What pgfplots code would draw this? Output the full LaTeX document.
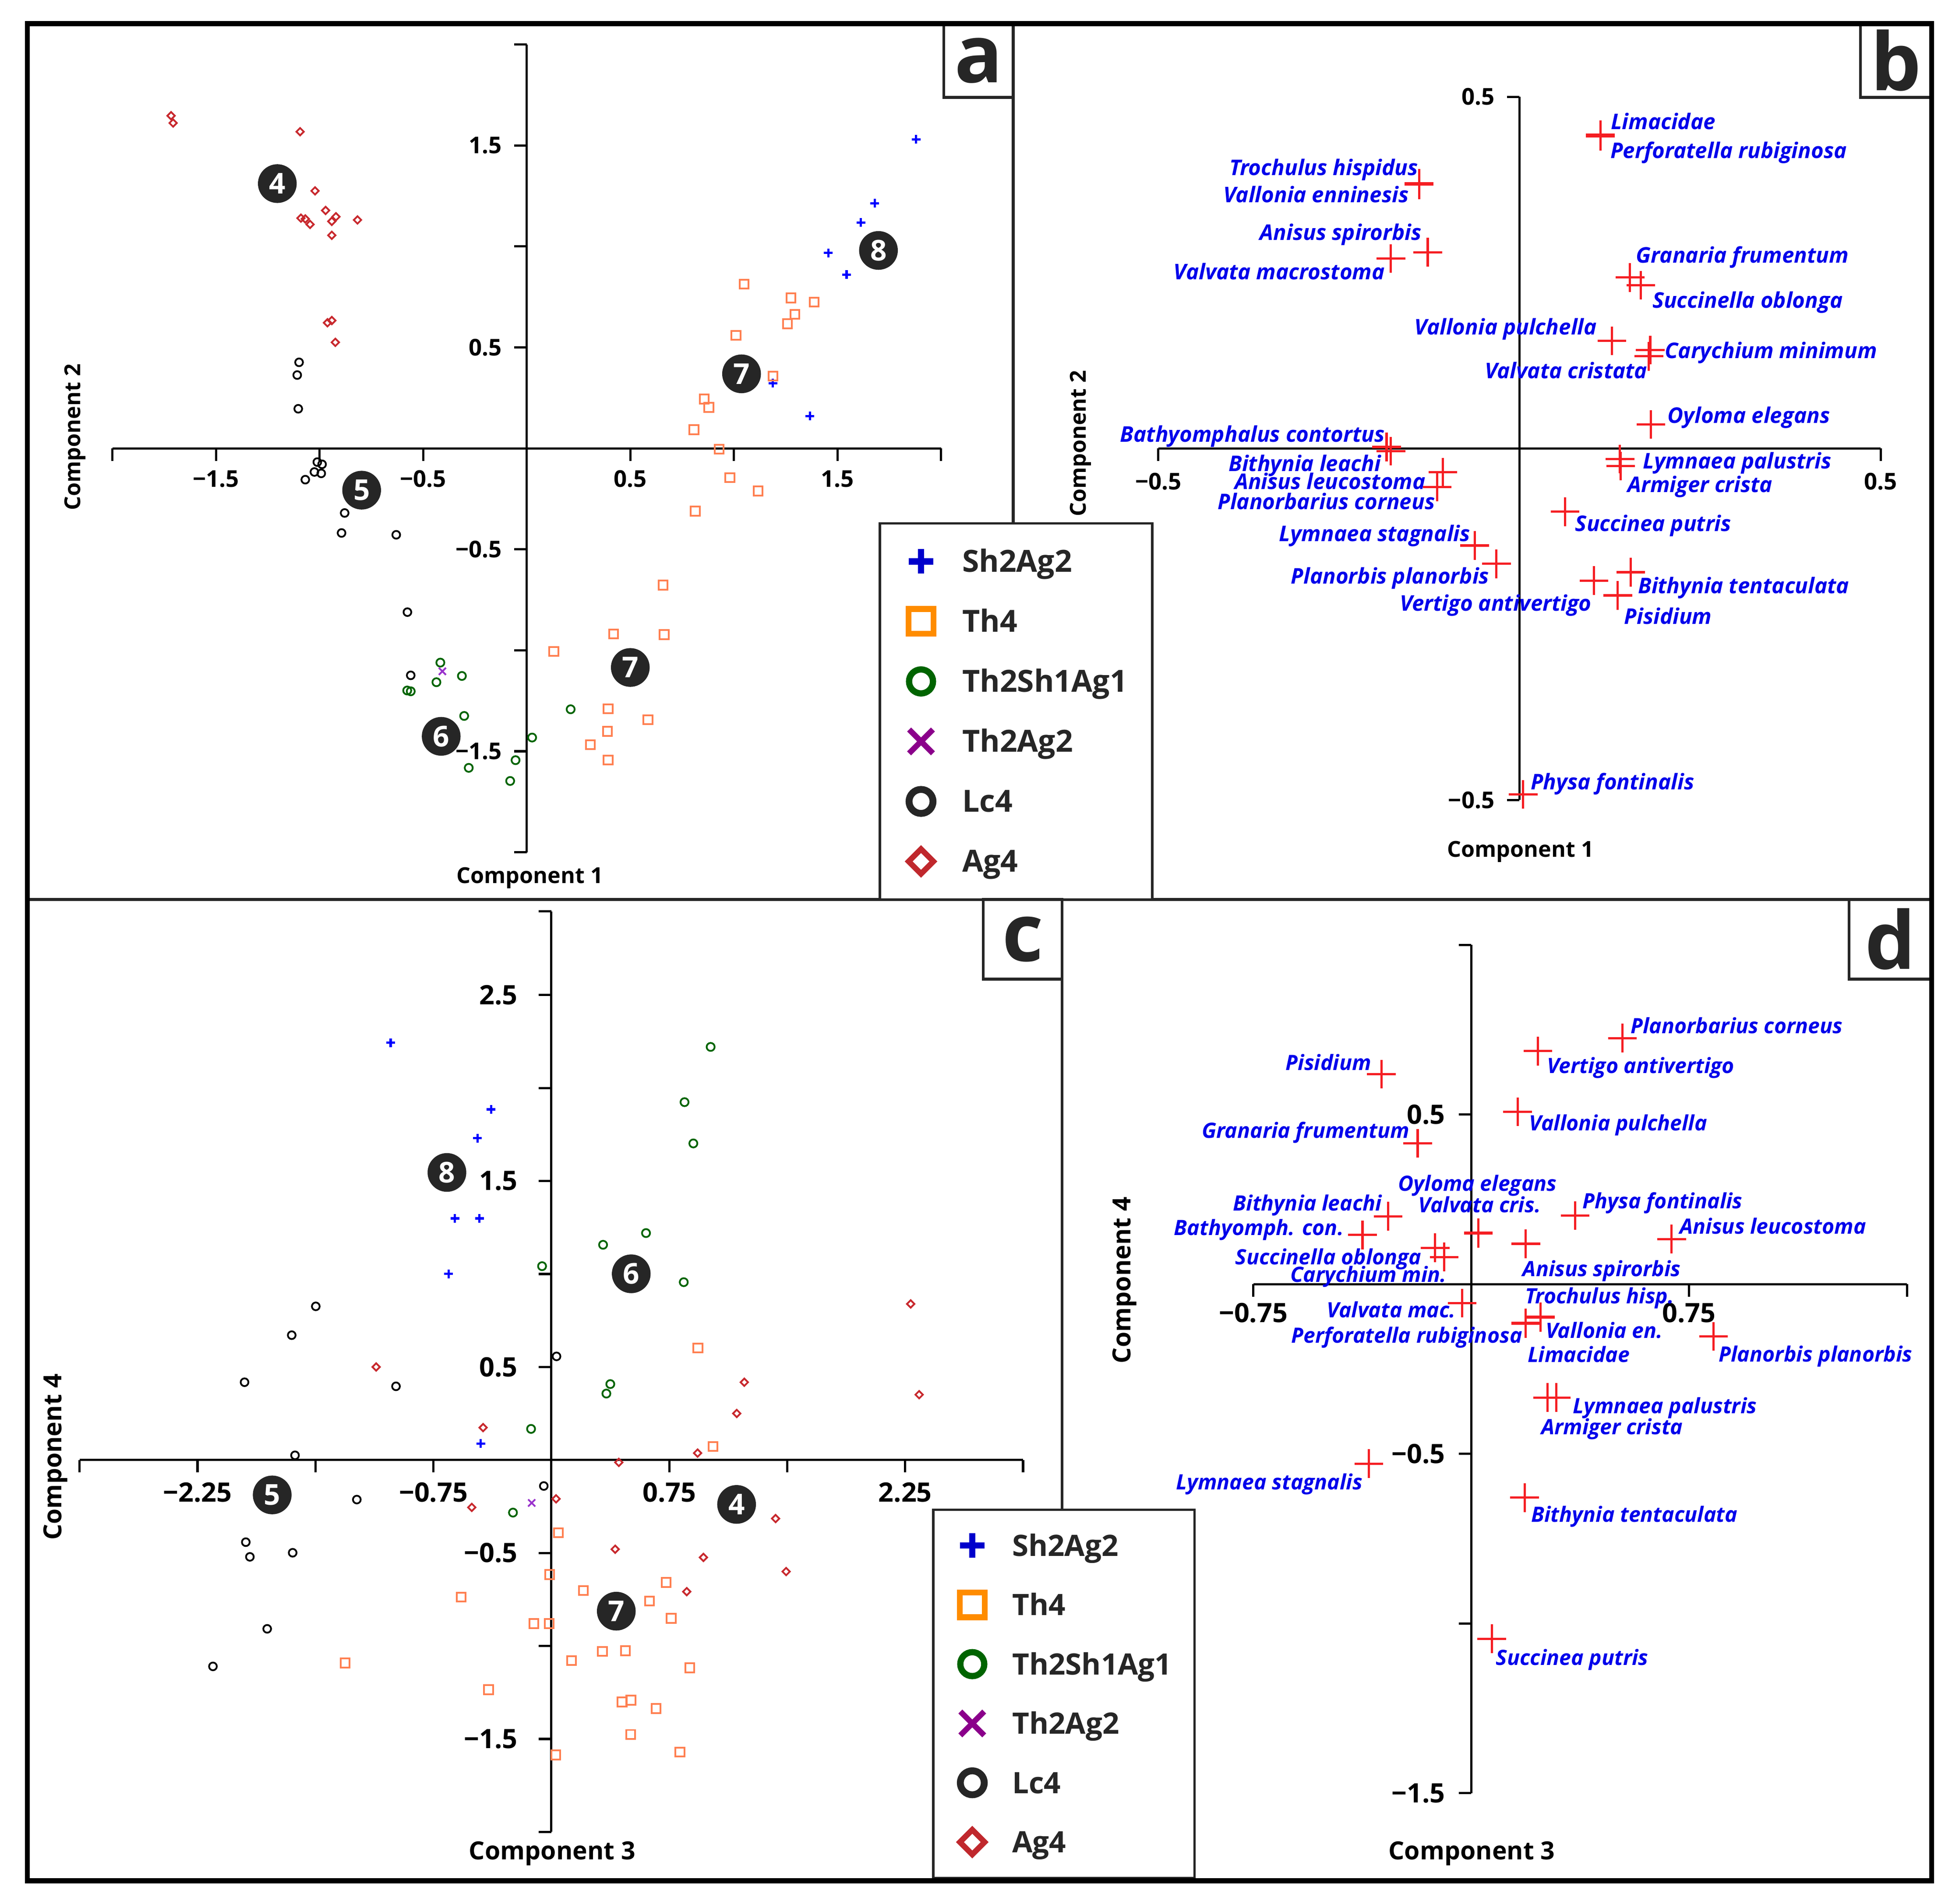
\documentclass[border=0pt]{standalone}
\usepackage{fontspec}
\setmainfont{Open Sans}
\usepackage{pgfplots}
\pgfplotsset{compat=1.18}

\definecolor{dgray}{HTML}{262626}
\definecolor{pblue}{HTML}{0000FF}
\definecolor{pcoral}{HTML}{FF7F50}
\definecolor{pgreen}{HTML}{006400}
\definecolor{pviolet}{HTML}{9932CC}
\definecolor{pred}{HTML}{C8282D}
\definecolor{lblue}{HTML}{0000CC}
\definecolor{lorange}{HTML}{FF8C00}
\definecolor{lmagenta}{HTML}{8B008B}
\definecolor{lred}{HTML}{C0282D}
\definecolor{spred}{HTML}{F51E23}
\definecolor{spblue}{HTML}{0000EB}

\newcommand\tickA{\bfseries\fontsize{18.5}{18.5}\selectfont}
\newcommand\tickC{\bfseries\fontsize{21.4}{21.4}\selectfont}

\tikzset{
  numc/.style={circle, fill=dgray, draw=none, minimum size=31pt, inner sep=0pt,
    text=white, font=\bfseries\fontsize{23}{23}\selectfont},
  grpleg/.style={draw=dgray, line width=2pt, fill=white, text=dgray,
    outer sep=0pt,
    nodes={inner sep=0pt, text height=20pt, text depth=3pt}},
}

\pgfplotsset{
  pca/.style={scale only axis, anchor=south west, axis lines=middle,
    enlargelimits=false, clip=false,
    axis line style={line width=1.8pt, black, -},
    tick style={line width=1.8pt, black},
    major tick length=10pt, minor tick length=10pt, tick align=outside,
    xticklabel style={inner sep=0pt, anchor=center},
    yticklabel style={inner sep=0pt, anchor=east}},
  sh/.style={only marks, mark=+, mark size=3.5pt, mark options={line width=1.8pt, draw=pblue},
    legend image code/.code={\path[draw=none,fill=none] (-13pt,-13pt) rectangle (13pt,13pt);
      \draw plot[only marks, mark=+, mark size=9.85pt, mark options={line width=5pt, draw=lblue}] coordinates {(0pt,0pt)};}},
  th/.style={only marks, mark=square, mark size=3.6pt, mark options={line width=1.4pt, draw=pcoral},
    legend image code/.code={\path[draw=none,fill=none] (-13pt,-13pt) rectangle (13pt,13pt);
      \draw plot[only marks, mark=square, mark size=9.9pt, mark options={line width=4.7pt, draw=lorange}] coordinates {(0pt,0pt)};}},
  tsa/.style={only marks, mark=o, mark size=3.2pt, mark options={line width=1.4pt, draw=pgreen},
    legend image code/.code={\path[draw=none,fill=none] (-13pt,-13pt) rectangle (13pt,13pt);
      \draw plot[only marks, mark=o, mark size=9.6pt, mark options={line width=5pt, draw=pgreen}] coordinates {(0pt,0pt)};}},
  tag/.style={only marks, mark=x, mark size=4pt, mark options={line width=1.4pt, draw=pviolet},
    legend image code/.code={\path[draw=none,fill=none] (-13pt,-13pt) rectangle (13pt,13pt);
      \draw plot[only marks, mark=x, mark size=13.5pt, mark options={line width=4.5pt, draw=lmagenta}] coordinates {(0pt,0pt)};}},
  lc/.style={only marks, mark=o, mark size=3.1pt, mark options={line width=1.4pt, draw=black},
    legend image code/.code={\path[draw=none,fill=none] (-13pt,-13pt) rectangle (13pt,13pt);
      \draw plot[only marks, mark=o, mark size=9.6pt, mark options={line width=5.5pt, draw=dgray}] coordinates {(0pt,0pt)};}},
  ag/.style={only marks, mark=square, mark size=2.1pt, mark options={rotate=45, line width=1.4pt, draw=pred},
    legend image code/.code={\path[draw=none,fill=none] (-13pt,-13pt) rectangle (13pt,13pt);
      \draw plot[only marks, mark=square, mark size=7pt, mark options={rotate=45, line width=4.5pt, draw=lred}] coordinates {(0pt,0pt)};}},
  sp/.style={only marks, mark=+, mark size=11.5pt, mark options={line width=1.8pt, draw=spred}},
}

\begin{document}
\begin{tikzpicture}
\begin{scope}[x=1pt,y=-1pt]
\path[fill=white] (0,0) rectangle (1568,1524.5);
\draw[dgray, line width=2.2pt] (22,720.2) -- (1546,720.2);
\draw[dgray, line width=2.2pt] (811,19) -- (811,720.2);
\draw[dgray, line width=2.2pt] (850,720.2) -- (850,1506);
\end{scope}

% ---------- panel a ----------
\begin{axis}[pca, at={(90pt,-682.4pt)}, width=663.2pt, height=646.8pt,
  xmin=-2, xmax=2, ymin=-2, ymax=2,
  xtick={-1.5,-0.5,0.5,1.5}, xticklabels={−1.5,−0.5,0.5,1.5}, minor xtick={-2,-1,1,2},
  ytick={-1.5,-0.5,0.5,1.5}, yticklabels={−1.5,−0.5,0.5,1.5}, minor ytick={-2,-1,1,2},
  tick label style={font=\tickA},
  xticklabel style={yshift=-14.5pt}, yticklabel style={xshift=-9.8pt},
  legend cell align=left,
  legend style={grpleg, font=\bfseries\fontsize{24.4}{24.4}\selectfont,
    at={(0.9261,0.4071)}, anchor=north west,
    inner xsep=20pt, inner ysep=17.45pt, row sep=22.04pt, column sep=20pt}]
\addplot[sh] coordinates {(1.880,1.530) (1.680,1.214) (1.613,1.118) (1.456,0.968) (1.544,0.860) (1.188,0.323) (1.367,0.160)};
\addplot[th] coordinates {(1.049,0.813) (1.276,0.745) (1.388,0.724) (1.295,0.664) (1.259,0.617) (1.010,0.560) (1.189,0.358) (0.857,0.244) (0.879,0.203) (0.807,0.092) (0.929,-0.004) (0.981,-0.145) (1.117,-0.211) (0.814,-0.311) (0.658,-0.677) (0.419,-0.919) (0.664,-0.922) (0.131,-1.006) (0.393,-1.290) (0.585,-1.344) (0.390,-1.401) (0.307,-1.467) (0.393,-1.543)};
\addplot[tsa] coordinates {(-0.417,-1.061) (-0.436,-1.158) (-0.313,-1.127) (-0.577,-1.199) (-0.560,-1.203) (-0.302,-1.325) (-0.280,-1.582) (0.026,-1.432) (-0.054,-1.544) (-0.080,-1.647) (0.212,-1.292)};
\addplot[tag] coordinates {(-0.407,-1.104)};
\addplot[lc] coordinates {(-1.099,0.426) (-1.108,0.363) (-1.103,0.196) (-1.011,-0.068) (-0.988,-0.079) (-1.025,-0.117) (-0.992,-0.124) (-1.069,-0.155) (-0.879,-0.320) (-0.894,-0.419) (-0.630,-0.428) (-0.576,-0.811) (-0.560,-1.124)};
\addplot[ag] coordinates {(-1.717,1.647) (-1.707,1.611) (-1.094,1.568) (-1.022,1.275) (-0.971,1.178) (-0.921,1.147) (-0.941,1.124) (-1.090,1.140) (-1.069,1.136) (-1.046,1.109) (-0.817,1.131) (-0.941,1.055) (-0.941,0.633) (-0.962,0.622) (-0.924,0.525)};
\legend{Sh2Ag2,Th4,Th2Sh1Ag1,Th2Ag2,Lc4,Ag4}
\node[numc] at (axis cs:-1.204,1.311) {4};
\node[numc] at (axis cs:-0.797,-0.207) {5};
\node[numc] at (axis cs:-0.413,-1.426) {6};
\node[numc] at (axis cs:1.037,0.369) {7};
\node[numc] at (axis cs:0.500,-1.085) {7};
\node[numc] at (axis cs:1.698,0.980) {8};
\end{axis}

% ---------- panel b ----------
\begin{axis}[pca, at={(927.1pt,-640.6pt)}, width=578.2pt, height=563.1pt,
  xmin=-0.5, xmax=0.5, ymin=-0.5, ymax=0.5,
  xtick={-0.5,0.5}, xticklabels={−0.5,0.5},
  ytick={-0.5,0.5}, yticklabels={−0.5,0.5},
  tick label style={font=\tickA},
  xticklabel style={yshift=-16.5pt}, yticklabel style={xshift=-9.8pt}]
\addplot[sp] coordinates {(0.112,0.446) (0.112,0.444) (-0.139,0.377) (-0.139,0.375) (-0.127,0.279) (-0.178,0.270) (0.153,0.243) (0.168,0.232) (0.128,0.153) (0.181,0.140) (0.179,0.131) (0.182,0.034) (-0.184,0.002) (-0.178,-0.004) (-0.106,-0.034) (-0.114,-0.055) (0.139,-0.015) (0.140,-0.025) (0.063,-0.090) (-0.062,-0.138) (-0.032,-0.164) (0.154,-0.176) (0.103,-0.188) (0.136,-0.209) (0.005,-0.492)};
\end{axis}

% ---------- panel c ----------
\begin{axis}[pca, at={(63.7pt,-1466.8pt)}, width=755.2pt, height=737.1pt,
  xmin=-3, xmax=3, ymin=-2, ymax=2.95,
  xtick={-2.25,-0.75,0.75,2.25}, xticklabels={−2.25,−0.75,0.75,2.25}, minor xtick={-3,-1.5,1.5,3},
  ytick={-1.5,-0.5,0.5,1.5,2.5}, yticklabels={−1.5,−0.5,0.5,1.5,2.5}, minor ytick={-2,-1,1,2,2.95},
  tick label style={font=\tickC},
  xticklabel style={yshift=-16pt}, yticklabel style={xshift=-17pt},
  legend cell align=left,
  legend style={grpleg, font=\bfseries\fontsize{23.6}{23.6}\selectfont,
    at={(0.9047,0.3500)}, anchor=north west,
    inner xsep=18.3pt, inner ysep=15.65pt, row sep=21.5pt, column sep=18.9pt}]
\addplot[sh] coordinates {(-1.022,2.244) (-0.383,1.885) (-0.470,1.730) (-0.613,1.299) (-0.457,1.299) (-0.653,1.001) (-0.449,0.088)};
\addplot[th] coordinates {(0.932,0.602) (1.028,0.072) (0.045,-0.391) (-0.011,-0.616) (0.203,-0.702) (0.730,-0.658) (0.624,-0.759) (0.762,-0.851) (-0.111,-0.880) (-0.014,-0.880) (0.128,-1.079) (0.325,-1.029) (0.471,-1.026) (0.880,-1.117) (0.450,-1.301) (0.506,-1.292) (0.666,-1.336) (0.504,-1.476) (0.818,-1.571) (0.028,-1.586) (-0.574,-0.737) (-1.312,-1.092) (-0.399,-1.235)};
\addplot[tsa] coordinates {(1.013,2.221) (0.847,1.924) (0.903,1.702) (0.602,1.220) (0.329,1.157) (-0.059,1.042) (0.842,0.956) (0.375,0.408) (0.350,0.357) (-0.129,0.167) (-0.244,-0.283)};
\addplot[tag] coordinates {(-0.125,-0.231)};
\addplot[lc] coordinates {(-1.498,0.826) (-1.651,0.671) (-1.951,0.418) (-0.988,0.396) (-1.630,0.025) (-1.237,-0.213) (-1.943,-0.442) (-1.917,-0.521) (-1.645,-0.499) (-1.807,-0.908) (-2.152,-1.110) (0.033,0.557) (-0.048,-0.140)};
\addplot[ag] coordinates {(2.285,0.839) (2.339,0.351) (1.227,0.418) (1.179,0.250) (0.930,0.037) (0.429,-0.013) (0.030,-0.209) (1.426,-0.315) (0.406,-0.480) (0.967,-0.524) (1.493,-0.600) (0.861,-0.708) (-1.114,0.500) (-0.434,0.174) (-0.506,-0.255)};
\legend{Sh2Ag2,Th4,Th2Sh1Ag1,Th2Ag2,Lc4,Ag4}
\node[numc] at (axis cs:-0.664,1.546) {8};
\node[numc] at (axis cs:0.508,1.001) {6};
\node[numc] at (axis cs:-1.775,-0.188) {5};
\node[numc] at (axis cs:1.178,-0.239) {4};
\node[numc] at (axis cs:0.413,-0.813) {7};
\end{axis}

% ---------- panel d ----------
\begin{axis}[pca, at={(1003.1pt,-1435.8pt)}, width=523.2pt, height=679.3pt,
  xmin=-0.75, xmax=1.5, ymin=-1.5, ymax=1,
  xtick={-0.75,0.75}, xticklabels={−0.75,0.75}, minor xtick={1.5},
  ytick={-1.5,-0.5,0.5}, yticklabels={−1.5,−0.5,0.5}, minor ytick={-1,1},
  tick label style={font=\tickC},
  xticklabel style={yshift=-13pt}, yticklabel style={xshift=-10.6pt}]
\addplot[sp] coordinates {(0.521,0.725) (0.230,0.687) (-0.309,0.619) (0.160,0.508) (-0.184,0.415) (0.358,0.202) (-0.286,0.200) (0.025,0.152) (0.025,0.150) (-0.374,0.145) (0.690,0.133) (0.188,0.119) (-0.124,0.107) (-0.093,0.080) (-0.031,-0.056) (0.239,-0.096) (0.239,-0.098) (0.188,-0.114) (0.188,-0.116) (0.834,-0.154) (0.293,-0.334) (0.263,-0.334) (-0.352,-0.529) (0.184,-0.629) (0.071,-1.045)};
\end{axis}

\begin{scope}[x=1pt,y=-1pt,
  lb/.style={font=\bfseries\itshape\fontsize{17.3}{17.3}\selectfont, text=spblue, inner sep=0pt, yshift=-6.2pt},
  ld/.style={font=\bfseries\itshape\fontsize{16.9}{16.9}\selectfont, text=spblue, inner sep=0pt, yshift=-6pt},
  axA/.style={font=\bfseries\fontsize{17.6}{17.6}\selectfont, text=black, inner sep=0pt},
  axC/.style={font=\bfseries\fontsize{20}{20}\selectfont, text=black, inner sep=0pt},
  W/.style={anchor=base west}, E/.style={anchor=base east}]
% panel b labels
\node[lb,W] at (1289.2,97.5) {Limacidae};
\node[lb,W] at (1288.8,120.6) {Perforatella rubiginosa};
\node[lb,E] at (1135.3,134.3) {Trochulus hispidus};
\node[lb,E] at (1127.7,155.9) {Vallonia enninesis};
\node[lb,E] at (1137.9,186.1) {Anisus spirorbis};
\node[lb,E] at (1108.6,217.5) {Valvata macrostoma};
\node[lb,W] at (1309.4,204.2) {Granaria frumentum};
\node[lb,W] at (1322.4,240.3) {Succinella oblonga};
\node[lb,E] at (1278.2,261.9) {Vallonia pulchella};
\node[lb,W] at (1332.4,280.6) {Carychium minimum};
\node[lb,E] at (1318.7,296.8) {Valvata cristata};
\node[lb,W] at (1334.6,332.5) {Oyloma elegans};
\node[lb,E] at (1108.6,347.8) {Bathyomphalus contortus};
\node[lb,E] at (1105.4,371.2) {Bithynia leachi};
\node[lb,E] at (1141.2,385.6) {Anisus leucostoma};
\node[lb,E] at (1148.8,401.5) {Planorbarius corneus};
\node[lb,W] at (1314.9,369.2) {Lymnaea palustris};
\node[lb,W] at (1302.5,387.9) {Armiger crista};
\node[lb,W] at (1260.7,419.1) {Succinea putris};
\node[lb,E] at (1176.9,427.1) {Lymnaea stagnalis};
\node[lb,E] at (1192.1,461.1) {Planorbis planorbis};
\node[lb,E] at (1274.0,483.1) {Vertigo antivertigo};
\node[lb,W] at (1311.0,469.0) {Bithynia tentaculata};
\node[lb,W] at (1299.9,493.5) {Pisidium};
\node[lb,W] at (1225.0,626.0) {Physa fontinalis};
% panel d labels
\node[ld,W] at (1304.9,821.6) {Planorbarius corneus};
\node[ld,W] at (1238.0,853.2) {Vertigo antivertigo};
\node[ld,E] at (1097.7,850.9) {Pisidium};
\node[ld,W] at (1223.8,899.4) {Vallonia pulchella};
\node[ld,E] at (1128.4,905.1) {Granaria frumentum};
\node[ld,W] at (1118.9,947.6) {Oyloma elegans};
\node[ld,W] at (1135.1,965.0) {Valvata cris.};
\node[ld,E] at (1106.2,963.6) {Bithynia leachi};
\node[ld,W] at (1266.6,961.7) {Physa fontinalis};
\node[ld,E] at (1075.6,982.9) {Bathyomph. con.};
\node[ld,W] at (1344.3,982.0) {Anisus leucostoma};
\node[ld,E] at (1137.9,1006.5) {Succinella oblonga};
\node[ld,W] at (1218.6,1016.0) {Anisus spirorbis};
\node[ld,E] at (1157.9,1020.7) {Carychium min.};
\node[ld,W] at (1220.6,1037.7) {Trochulus hisp.};
\node[ld,E] at (1165.3,1049.0) {Valvata mac.};
\node[ld,W] at (1237.0,1065.5) {Vallonia en.};
\node[ld,E] at (1218.6,1069.3) {Perforatella rubiginosa};
\node[ld,W] at (1222.5,1084.8) {Limacidae};
\node[ld,W] at (1375.5,1084.4) {Planorbis planorbis};
\node[ld,W] at (1258.7,1125.9) {Lymnaea palustris};
\node[ld,W] at (1233.4,1142.4) {Armiger crista};
\node[ld,E] at (1090.8,1186.7) {Lymnaea stagnalis};
\node[ld,W] at (1225.5,1212.7) {Bithynia tentaculata};
\node[ld,W] at (1197.2,1327.3) {Succinea putris};
% axis titles
\node[axA] at (424,703) {Component 1};
\node[axA, rotate=90] at (60,350) {Component 2};
\node[axA] at (1217,682) {Component 1};
\node[axA, rotate=90] at (865,355) {Component 2};
\node[axC] at (442,1484) {Component 3};
\node[axC, rotate=90] at (44.5,1166.5) {Component 4};
\node[axC] at (1178,1484) {Component 3};
\node[axC, rotate=90] at (900,1025) {Component 4};
% panel letters
\draw[dgray, line width=2.2pt, fill=white] (755.5,19) rectangle (811,78);
\draw[dgray, line width=2.2pt, fill=white] (1489,19) rectangle (1546,78);
\draw[dgray, line width=2.2pt, fill=white] (787,720.2) rectangle (850,784);
\draw[dgray, line width=2.2pt, fill=white] (1480,720.2) rectangle (1546,784);
\node[font=\bfseries\fontsize{64}{64}\selectfont, text=dgray, inner sep=0pt] at (783.2,48.5) {a};
\node[font=\bfseries\fontsize{64}{64}\selectfont, text=dgray, inner sep=0pt] at (1517.5,48.5) {b};
\node[font=\bfseries\fontsize{64}{64}\selectfont, text=dgray, inner sep=0pt] at (818.5,752) {c};
\node[font=\bfseries\fontsize{64}{64}\selectfont, text=dgray, inner sep=0pt] at (1513,752) {d};
% outer frame
\draw[black, line width=4pt] (22,19) rectangle (1546,1506);
\end{scope}
\pgfresetboundingbox
\path (0pt,0pt) rectangle (1568pt,-1524.5pt);
\end{tikzpicture}
\end{document}
